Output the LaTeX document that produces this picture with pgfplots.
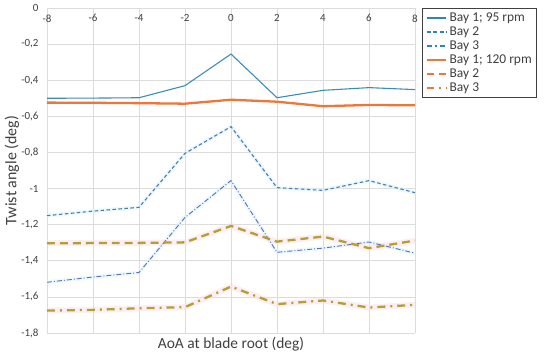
\documentclass[border=0pt]{standalone}
\usepackage{pgfplots}
\pgfplotsset{compat=1.18}
\usepackage{fontspec}
\setmainfont{Carlito}
\definecolor{bluesolid}{HTML}{3A8DBA}
\definecolor{legblue}{HTML}{2A86C0}
\definecolor{bluedash}{HTML}{4F78B8}
\definecolor{bluedashdot}{HTML}{6468C0}
\definecolor{orangeline}{HTML}{F07538}
\definecolor{oliveline}{HTML}{B3A032}
\definecolor{pinkglow}{HTML}{FBDDE8}
\definecolor{cyanglow}{HTML}{DDF6F8}
\definecolor{gridgray}{HTML}{DCDCDC}
\definecolor{ticktext}{HTML}{404040}
\begin{document}
\begin{tikzpicture}
\path[use as bounding box] (-47bp,-24bp) rectangle (503bp,333bp);
\begin{axis}[
  scale only axis,
  width=368bp, height=325bp,
  xmin=-8, xmax=8, ymin=-1.8, ymax=0,
  xtick={-8,-6,...,8},
  ytick={-1.8,-1.6,...,0},
  xticklabel pos=upper,
  xticklabel style={anchor=north, yshift=-3bp, font=\fontsize{11}{12}\selectfont, text=ticktext},
  yticklabel style={font=\fontsize{11}{12}\selectfont, text=ticktext, xshift=-5bp},
  /pgf/number format/.cd, use comma, fixed, precision=1, assume math mode=true,
  /pgfplots/.cd,
  yticklabel={\pgfmathprintnumber[fixed,use comma,precision=1,assume math mode=true]{\tick}},
  grid=major,
  major grid style={gridgray, line width=0.6pt},
  axis line style={draw=none},
  tick style={draw=none},
  ylabel={Twist angle (deg)},
  ylabel style={font=\fontsize{16}{18}\selectfont, text=ticktext, at={(axis description cs:-0.095,0.5)}, anchor=center},
  xlabel={AoA at blade root (deg)},
  xlabel style={font=\fontsize{15.5}{18}\selectfont, text=ticktext, at={(axis description cs:0.5,0)}, anchor=north, yshift=-1bp},
  legend style={at={(axis description cs:1,1)}, anchor=north west, xshift=7bp,
    draw=ticktext, line width=0.7pt, font=\fontsize{13.5}{14}\selectfont,
    inner xsep=3bp, inner ysep=2.5bp, row sep=-0.2bp,
    /tikz/every even column/.append style={column sep=0pt}},
  legend cell align=left,
  legend image code/.code={\draw[#1] (0cm,0cm) -- (0.7cm,0cm);},
  clip=false,
]
% glows
\addplot[cyanglow, line width=4pt, opacity=0.6, forget plot] coordinates {(-8,-1.15) (-6,-1.125) (-4,-1.104) (-2,-0.805) (0,-0.657) (2,-0.995) (4,-1.01) (6,-0.956) (8,-1.023)};
\addplot[cyanglow, line width=4pt, opacity=0.6, forget plot] coordinates {(-8,-1.519) (-6,-1.49) (-4,-1.465) (-2,-1.16) (0,-0.956) (2,-1.353) (4,-1.33) (6,-1.296) (8,-1.358)};
\addplot[pinkglow, line width=6pt, opacity=0.5, forget plot] coordinates {(-8,-1.303) (-6,-1.302) (-4,-1.301) (-2,-1.298) (0,-1.207) (2,-1.294) (4,-1.266) (6,-1.33) (8,-1.288)};
\addplot[pinkglow, line width=6pt, opacity=0.5, forget plot] coordinates {(-8,-1.676) (-6,-1.672) (-4,-1.663) (-2,-1.657) (0,-1.543) (2,-1.64) (4,-1.62) (6,-1.659) (8,-1.644)};
% main lines
\addplot[bluesolid, line width=1.1pt, forget plot] coordinates {(-8,-0.5) (-6,-0.499) (-4,-0.497) (-2,-0.43) (0,-0.255) (2,-0.497) (4,-0.456) (6,-0.441) (8,-0.452)};
\addplot[bluedash, line width=1.1pt, dash pattern=on 3.5pt off 2.5pt, forget plot] coordinates {(-8,-1.15) (-6,-1.125) (-4,-1.104) (-2,-0.805) (0,-0.657) (2,-0.995) (4,-1.01) (6,-0.956) (8,-1.023)};
\addplot[bluedashdot, line width=0.9pt, dash pattern=on 5pt off 2pt on 1pt off 2pt, forget plot] coordinates {(-8,-1.519) (-6,-1.49) (-4,-1.465) (-2,-1.16) (0,-0.956) (2,-1.353) (4,-1.33) (6,-1.296) (8,-1.358)};
\addplot[orangeline, line width=2.3pt, forget plot] coordinates {(-8,-0.524) (-6,-0.525) (-4,-0.527) (-2,-0.53) (0,-0.508) (2,-0.519) (4,-0.544) (6,-0.537) (8,-0.539)};
\addplot[oliveline, line width=2.3pt, dash pattern=on 8pt off 5pt, forget plot] coordinates {(-8,-1.303) (-6,-1.302) (-4,-1.301) (-2,-1.298) (0,-1.207) (2,-1.294) (4,-1.266) (6,-1.33) (8,-1.288)};
\addplot[oliveline, line width=2.3pt, dash pattern=on 8pt off 5pt on 2pt off 5pt, forget plot] coordinates {(-8,-1.676) (-6,-1.672) (-4,-1.663) (-2,-1.657) (0,-1.543) (2,-1.64) (4,-1.62) (6,-1.659) (8,-1.644)};
% legend
\addlegendimage{legblue, line width=1.4pt}
\addlegendentry{\textcolor{ticktext}{Bay 1; 95 rpm}}
\addlegendimage{legblue, line width=1.5pt, dash pattern=on 4pt off 2.5pt}
\addlegendentry{\textcolor{ticktext}{Bay 2}}
\addlegendimage{legblue, line width=1.5pt, dash pattern=on 5pt off 3pt on 2pt off 3pt}
\addlegendentry{\textcolor{ticktext}{Bay 3}}
\addlegendimage{orangeline, line width=2.5pt}
\addlegendentry{\textcolor{ticktext}{Bay 1; 120 rpm}}
\addlegendimage{orangeline, line width=2.5pt, dash pattern=on 7pt off 5pt}
\addlegendentry{\textcolor{ticktext}{Bay 2}}
\addlegendimage{orangeline, line width=2.5pt, dash pattern=on 7pt off 5pt on 2pt off 5pt}
\addlegendentry{\textcolor{ticktext}{Bay 3}}
\end{axis}
\end{tikzpicture}
\end{document}
